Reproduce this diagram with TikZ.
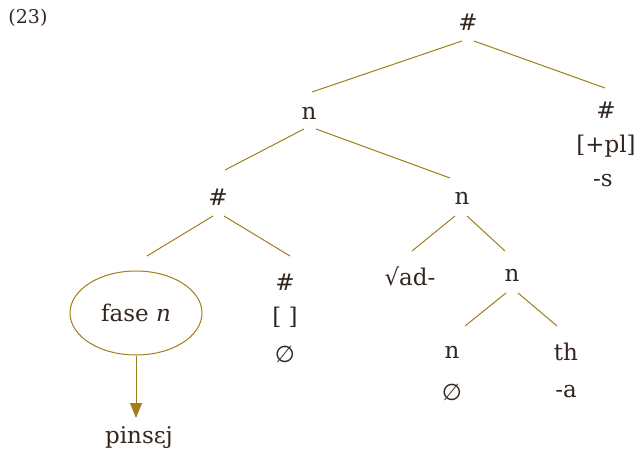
\documentclass[tikz,border=0pt]{standalone}
\usepackage{fontspec}
\setmainfont{DejaVu Serif}
\newfontfamily\symfnt{DejaVu Sans}
\usetikzlibrary{arrows.meta,shapes.geometric}
\definecolor{ink}{HTML}{33261F}
\definecolor{branch}{HTML}{A07E1A}
\newcommand{\nullset}{{\symfnt ∅}}
\begin{document}
\begin{tikzpicture}[x=1pt,y=-1pt,
  lbl/.style={text=ink,font=\fontsize{23}{27}\selectfont,inner sep=1pt},
  edge/.style={draw=branch,line width=1pt},
  arr/.style={draw=branch,line width=1pt,-{Triangle[length=15pt,width=12pt]}}]
\useasboundingbox (0,0) rectangle (635,455);
\node[lbl,font=\fontsize{19}{22}\selectfont] (ex) at (28,18) {(23)};
% top level
\node[lbl] (r) at (468,22) {\#};
\node[lbl] (n1) at (309,113) {n};
\node[lbl] (p) at (606,110) {\#};
\node[lbl] (pf) at (606,146) {[+pl]};
\node[lbl] (ps) at (603,181) {-s};
% second level
\node[lbl] (h) at (218,197) {\#};
\node[lbl] (n2) at (462,198) {n};
% third level
\node[draw=branch,line width=1pt,ellipse,minimum width=132pt,minimum height=84pt,
      text=ink,font=\fontsize{23}{27}\selectfont] (ph) at (136,313) {fase \textit{n}};
\node[lbl] (e) at (285,282) {\#};
\node[lbl] (ef) at (285,317) {[ ]};
\node[lbl] (ez) at (285,354) {\nullset};
\node[lbl] (rt) at (410,276) {√ad-};
\node[lbl] (n3) at (512,275) {n};
% fourth level
\node[lbl] (n4) at (452,352) {n};
\node[lbl] (n4z) at (452,392) {\nullset};
\node[lbl] (th) at (566,352) {th};
\node[lbl] (tha) at (566,392) {-a};
\node[lbl] (pin) at (139,438) {pinsεj};
% branches
\coordinate (rL) at (462,41);
\coordinate (rR) at (474,41);
\draw[edge] (rL) -- (312,92);
\draw[edge] (rR) -- (605,88);
\coordinate (n1L) at (304,129);
\coordinate (n1R) at (316,129);
\draw[edge] (n1L) -- (225,170);
\draw[edge] (n1R) -- (450,178);
\coordinate (hL) at (213,216);
\coordinate (hR) at (224,216);
\draw[edge] (hL) -- (147,256);
\draw[edge] (hR) -- (290,256);
\coordinate (n2L) at (455,216);
\coordinate (n2R) at (467,216);
\draw[edge] (n2L) -- (412,251);
\draw[edge] (n2R) -- (505,251);
\coordinate (n3L) at (506,293);
\coordinate (n3R) at (518,293);
\draw[edge] (n3L) -- (465,326);
\draw[edge] (n3R) -- (557,326);
\coordinate (tip) at (136,418);
\draw[arr] (ph.south) -- (tip);
\end{tikzpicture}
\end{document}
